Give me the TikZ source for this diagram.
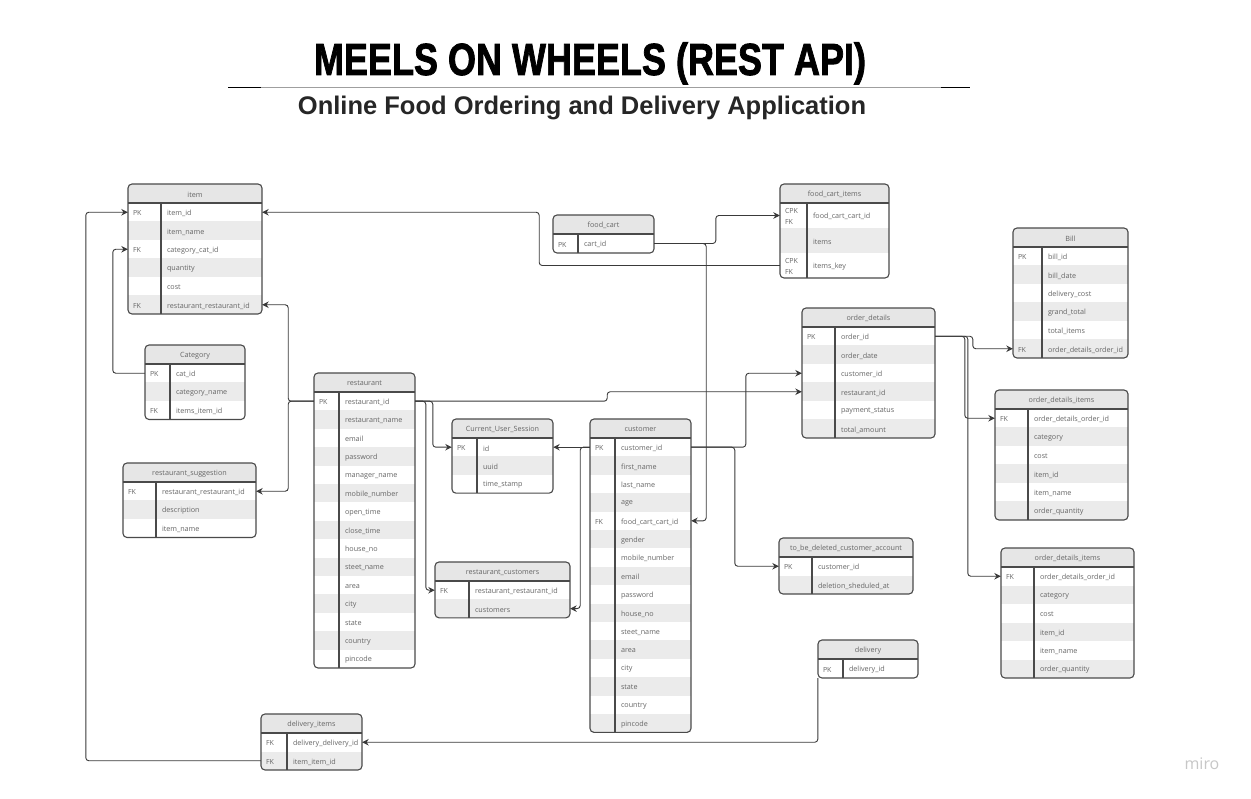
\documentclass[tikz,border=0pt]{standalone}
\usepackage{fontspec}
\setmainfont{Open Sans}
\newfontfamily\headfont{Liberation Sans}
\newfontfamily\titlefont{Liberation Sans}[FakeBold=2]
\usetikzlibrary{arrows.meta}

\definecolor{bordercol}{HTML}{4A4A4A}
\definecolor{hdrcol}{HTML}{E6E6E6}
\definecolor{stripecol}{HTML}{EBEBEB}
\definecolor{textcol}{HTML}{666666}
\definecolor{linkcol}{HTML}{3A3A3A}

\tikzset{
  tblline/.style={draw=bordercol, line width=1.1pt},
  rowbox/.style={inner sep=0pt, draw=none},
  keytext/.style={font=\fontsize{7}{10.5}\selectfont, text=textcol, align=left, inner sep=0pt, yshift=-1.2pt},
  fieldtext/.style={font=\fontsize{7.2}{8}\selectfont, text=textcol, inner sep=0pt, yshift=-1.2pt},
  hdrtext/.style={font=\fontsize{7.2}{8}\selectfont, text=textcol, inner sep=0pt, yshift=-1pt},
  link/.style={draw=linkcol, line width=0.9pt, rounded corners=3pt, -{Stealth[length=6.5pt,width=6.5pt]}}
}

% one table: name, title, left, top, width, key column, row height, key/field rows
\newcommand{\ertable}[8]{%
  \foreach \k/\f [count=\n] in {#8} {\xdef\nrows{\n}}
  \pgfmathsetmacro\tbot{#4+19+#7*\nrows}
  \begin{scope}
    \clip[rounded corners=4pt] (#3,#4) rectangle (#3+#5,\tbot);
    \fill[hdrcol] (#3,#4) rectangle (#3+#5,#4+19);
    \foreach \k/\f [count=\i] in {#8} {
      \pgfmathsetmacro\ry{#4+19+#7*(\i-0.5)}
      \ifodd\i\else\fill[stripecol] (#3,\ry-#7/2) rectangle (#3+#5,\ry+#7/2);\fi
    }
  \end{scope}
  \foreach \k/\f [count=\i] in {#8} {
    \pgfmathsetmacro\ry{#4+19+#7*(\i-0.5)}
    \node[rowbox, minimum width=#5pt, minimum height=#7pt] (#1-\i) at (#3+#5/2,\ry) {};
    \node[keytext, anchor=west] (#1-\i-k) at ([xshift=5pt]#1-\i.west) {\k};
    \node[fieldtext, anchor=west] (#1-\i-f) at ([xshift=#6pt+6pt]#1-\i.west) {\f};
  }
  \node[hdrtext] (#1) at (#3+#5/2,#4+9.5) {#2};
  \draw[tblline] (#3,#4+19) -- (#3+#5,#4+19);
  \draw[tblline] (#3+#6,#4+19) -- (#3+#6,\tbot);
  \draw[tblline, rounded corners=4pt] (#3,#4) rectangle (#3+#5,\tbot);
}

\begin{document}
\catcode`\_=12
\begin{tikzpicture}[x=1pt, y=-1pt]
  \fill[white] (0,0) rectangle (1251,799);
  \useasboundingbox (0,0) rectangle (1251,799);

  % title
  \node[font=\titlefont\bfseries\fontsize{45}{45}\selectfont, anchor=base] (title) at (590,75) {\scalebox{0.8}[1]{MEELS ON WHEELS (REST API)}};
  \draw[gray!75, line width=1pt] (228,88) -- (970,88);
  \draw[black, line width=1pt] (228,88) -- (261,88) (941,88) -- (970,88);
  \node[font=\headfont\bfseries\fontsize{25.5}{25.5}\selectfont, text=black!85, anchor=base] (subtitle) at (582,115) {Online Food Ordering and Delivery Application};
  \node[font=\fontsize{16}{16}\selectfont, text=black!22] (miro) at (1202,764) {miro};

  % tables
  \ertable{item}{item}{128}{184}{134}{33}{18.5}{PK/item_id, {}/item_name, FK/category_cat_id, {}/quantity, {}/cost, FK/restaurant_restaurant_id}
  \ertable{category}{Category}{145}{345}{100}{25}{18.5}{PK/cat_id, {}/category_name, FK/items_item_id}
  \ertable{suggestion}{restaurant_suggestion}{123}{463}{133}{33}{18.5}{FK/restaurant_restaurant_id, {}/description, {}/item_name}
  \ertable{restaurant}{restaurant}{314}{373}{101}{25}{18.4}{PK/restaurant_id, {}/restaurant_name, {}/email, {}/password, {}/manager_name, {}/mobile_number, {}/open_time, {}/close_time, {}/house_no, {}/steet_name, {}/area, {}/city, {}/state, {}/country, {}/pincode}
  \ertable{session}{Current_User_Session}{452}{419}{101}{25}{18.4}{PK/id, {}/uuid, {}/time_stamp}
  \ertable{restcust}{restaurant_customers}{435}{562}{135}{34}{18.4}{FK/restaurant_restaurant_id, {}/customers}
  \ertable{customer}{customer}{590}{419}{101}{25}{18.4}{PK/customer_id, {}/first_name, {}/last_name, {}/age, FK/food_cart_cart_id, {}/gender, {}/mobile_number, {}/email, {}/password, {}/house_no, {}/steet_name, {}/area, {}/city, {}/state, {}/country, {}/pincode}
  \ertable{foodcart}{food_cart}{553}{215}{101}{25}{19}{PK/cart_id}
  \ertable{cartitems}{food_cart_items}{780}{184}{109}{27}{25}{{CPK\\FK}/food_cart_cart_id, {}/items, {CPK\\FK}/items_key}
  \ertable{bill}{Bill}{1013}{228}{115}{29}{18.5}{PK/bill_id, {}/bill_date, {}/delivery_cost, {}/grand_total, {}/total_items, FK/order_details_order_id}
  \ertable{orders}{order_details}{802}{308}{133}{33}{18.5}{PK/order_id, {}/order_date, {}/customer_id, {}/restaurant_id, {}/payment_status, {}/total_amount}
  \ertable{orderitemsA}{order_details_items}{995}{390}{133}{33}{18.5}{FK/order_details_order_id, {}/category, {}/cost, {}/item_id, {}/item_name, {}/order_quantity}
  \ertable{orderitemsB}{order_details_items}{1001}{548}{133}{33}{18.5}{FK/order_details_order_id, {}/category, {}/cost, {}/item_id, {}/item_name, {}/order_quantity}
  \ertable{deleted}{to_be_deleted_customer_account}{779}{538}{134}{33}{18.5}{PK/customer_id, {}/deletion_sheduled_at}
  \ertable{delivery}{delivery}{818}{640}{100}{25}{19}{PK/delivery_id}
  \ertable{delitems}{delivery_items}{261}{714}{101}{26}{18.5}{FK/delivery_delivery_id, FK/item_item_id}

  % connectors
  \draw[link] (delitems-2.west) -| ([xshift=-42pt]item-1.west) -- (item-1.west);
  \draw[link] (category-1.west) -| ([xshift=-15pt]item-3.west) -- (item-3.west);
  \draw[link] (cartitems-3.west) -| ([xshift=277pt]item-1.east) -- (item-1.east);
  \draw[link] (restaurant-1.west) -| ([xshift=26pt]item-6.east) -- (item-6.east);
  \draw[link] (restaurant-1.west) -| ([xshift=32pt]suggestion-1.east) -- (suggestion-1.east);
  \draw[link] (restaurant-1.east) -| ([xshift=-19pt]session-1.west) -- (session-1.west);
  \draw[link] (restaurant-1.east) -| ([xshift=-9pt]restcust-1.west) -- (restcust-1.west);
  \draw[link] (restaurant-1.east) -- ([xshift=192pt]restaurant-1.east) |- (orders-4.west);
  \draw[link] (customer-1.west) -- (session-1.east);
  \draw[link] (customer-1.west) -| ([xshift=10pt]restcust-2.east) -- (restcust-2.east);
  \draw[link] (customer-1.east) -| ([xshift=-56pt]orders-3.west) -- (orders-3.west);
  \draw[link] (customer-1.east) -| ([xshift=-44pt]deleted-1.west) -- (deleted-1.west);
  \draw[link] (foodcart-1.east) -| ([xshift=-64pt]cartitems-1.west) -- (cartitems-1.west);
  \draw[link] (foodcart-1.east) -| ([xshift=15pt]customer-5.east) -- (customer-5.east);
  \draw[link] (orders-1.east) -| ([xshift=-40pt]bill-6.west) -- (bill-6.west);
  \draw[link] (orders-1.east) -| ([xshift=-30pt]orderitemsA-1.west) -- (orderitemsA-1.west);
  \draw[link] (orders-1.east) -| ([xshift=-33pt]orderitemsB-1.west) -- (orderitemsB-1.west);
  \draw[link] (delivery-1.south west) |- (delitems-1.east);
\end{tikzpicture}
\end{document}
